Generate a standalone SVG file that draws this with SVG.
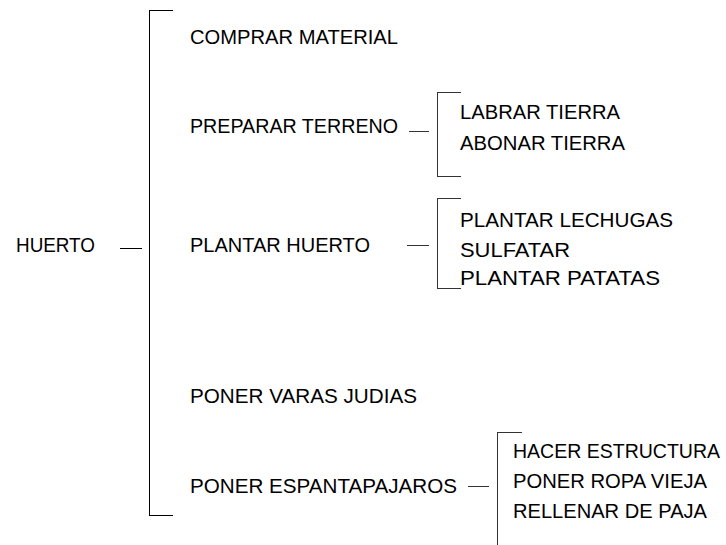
<svg xmlns="http://www.w3.org/2000/svg" width="726" height="545" viewBox="0 0 726 545">
<style>
text{font-family:"Liberation Sans",Arial,sans-serif;font-size:20px;fill:#000}
.ln{stroke:#000;stroke-width:1;fill:none;shape-rendering:crispEdges}
.sub{stroke:#333}
</style>
<rect width="726" height="545" fill="#fff"/>
<g id="connectors">
<path class="ln" d="M173,10.5 H149.5 V515.5 H173"/>
<path class="ln" d="M120,248.5 H142"/>
<path class="ln sub" d="M409,131.5 H429"/>
<path class="ln sub" d="M460.5,92.5 H437.5 V176.5 H460.5"/>
<path class="ln sub" d="M407,245.5 H429"/>
<path class="ln sub" d="M460.5,198.5 H437.5 V288.5 H460.5"/>
<path class="ln sub" d="M468,486.5 H489"/>
<path class="ln sub" d="M521.5,432.5 H497.5 V545"/>
</g>
<g id="huerto"><text x="16" y="252" textLength="79" lengthAdjust="spacingAndGlyphs">HUERTO</text></g>
<g id="comprar"><text x="190" y="44" textLength="208" lengthAdjust="spacingAndGlyphs">COMPRAR MATERIAL</text></g>
<g id="preparar"><text x="190" y="133" textLength="208" lengthAdjust="spacingAndGlyphs">PREPARAR TERRENO</text></g>
<g id="labrar"><text x="460" y="119" textLength="160" lengthAdjust="spacingAndGlyphs">LABRAR TIERRA</text></g>
<g id="abonar"><text x="460" y="150" textLength="165" lengthAdjust="spacingAndGlyphs">ABONAR TIERRA</text></g>
<g id="plantar"><text x="190" y="252" textLength="180" lengthAdjust="spacingAndGlyphs">PLANTAR HUERTO</text></g>
<g id="lechugas"><text x="460" y="226.5" textLength="213" lengthAdjust="spacingAndGlyphs">PLANTAR LECHUGAS</text></g>
<g id="sulfatar"><text x="460" y="256.5" textLength="110" lengthAdjust="spacingAndGlyphs">SULFATAR</text></g>
<g id="patatas"><text x="460" y="285" textLength="200" lengthAdjust="spacingAndGlyphs">PLANTAR PATATAS</text></g>
<g id="varas"><text x="190" y="403" textLength="227" lengthAdjust="spacingAndGlyphs">PONER VARAS JUDIAS</text></g>
<g id="espantapajaros"><text x="190" y="493" textLength="267" lengthAdjust="spacingAndGlyphs">PONER ESPANTAPAJAROS</text></g>
<g id="estructura"><text x="513" y="458" textLength="207" lengthAdjust="spacingAndGlyphs">HACER ESTRUCTURA</text></g>
<g id="ropa"><text x="513" y="488" textLength="194" lengthAdjust="spacingAndGlyphs">PONER ROPA VIEJA</text></g>
<g id="rellenar"><text x="513" y="518" textLength="194" lengthAdjust="spacingAndGlyphs">RELLENAR DE PAJA</text></g>
</svg>
